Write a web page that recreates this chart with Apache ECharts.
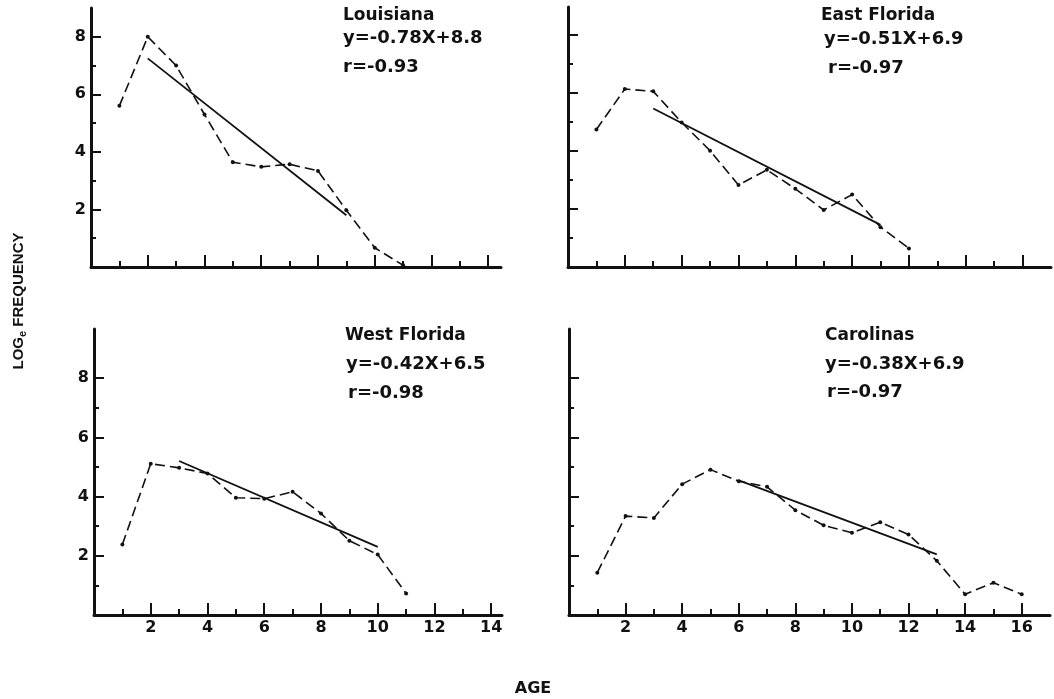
<!DOCTYPE html>
<html>
<head>
<meta charset="utf-8">
<script src="https://cdn.jsdelivr.net/npm/echarts@6/dist/echarts.min.js"></script>
<style>
  html, body { margin: 0; padding: 0; background: #fff; }
  #chart { width: 1054px; height: 699px; }
</style>
</head>
<body>
<div id="chart"></div>
<script>
// data (age vs log_e frequency)
var laAge = [1, 2, 3, 4, 5, 6, 7, 8, 9, 10, 11]
var laFreq = [5.6, 8.0, 7.0, 5.3, 3.64, 3.48, 3.57, 3.34, 1.97, 0.67, 0.06]
var laFit = [[2, 7.25], [9, 1.8]]

var efAge = [1, 2, 3, 4, 5, 6, 7, 8, 9, 10, 11, 12]
var efFreq = [4.73, 6.12, 6.04, 4.97, 4.0, 2.82, 3.34, 2.69, 1.96, 2.49, 1.37, 0.64]
var efFit = [[3, 5.45], [11, 1.45]]

var wfAge = [1, 2, 3, 4, 5, 6, 7, 8, 9, 10, 11]
var wfFreq = [2.38, 5.11, 4.97, 4.78, 3.96, 3.93, 4.16, 3.43, 2.51, 2.04, 0.73]
var wfFit = [[3, 5.2], [10, 2.3]]

var caAge = [1, 2, 3, 4, 5, 6, 7, 8, 9, 10, 11, 12, 13, 14, 15, 16]
var caFreq = [1.43, 3.34, 3.28, 4.42, 4.91, 4.52, 4.33, 3.54, 3.03, 2.78, 3.13, 2.72, 1.83, 0.70, 1.09, 0.70]
var caFit = [[6, 4.55], [13, 2.05]]

var yMajor = [2, 4, 6, 8]
var yMinor = [1, 3, 5, 7]
var xMajor14 = [2, 4, 6, 8, 10, 12, 14]
var xMinor14 = [1, 3, 5, 7, 9, 11, 13]
var xMajor16 = [2, 4, 6, 8, 10, 12, 14, 16]
var xMinor16 = [1, 3, 5, 7, 9, 11, 13, 15]

var panelNames = ["Louisiana", "East Florida", "West Florida", "Carolinas"]
var panelEq = ["y=-0.78X+8.8", "y=-0.51X+6.9", "y=-0.42X+6.5", "y=-0.38X+6.9"]
var panelR = ["r=-0.93", "r=-0.97", "r=-0.98", "r=-0.97"]

var chartDom = document.getElementById("chart")
var myChart = echarts.init(chartDom)

var FONT = "DejaVu Sans"
var INK = "#111"

var panels = [
    { grid: { left: 91, top: 8, width: 410, height: 259 }, xMax: 14.45, yMax: 9,
      xMaj: xMajor14, xMin: xMinor14, xLabels: false, yLabels: true,
      age: laAge, freq: laFreq, fit: laFit,
      text: [[343, 7], [343, 29], [343, 58]] },
    { grid: { left: 568, top: 7, width: 483, height: 260 }, xMax: 17, yMax: 8.94,
      xMaj: xMajor16, xMin: xMinor16, xLabels: false, yLabels: false,
      age: efAge, freq: efFreq, fit: efFit,
      text: [[821, 7], [824, 30], [828, 59]] },
    { grid: { left: 94, top: 329, width: 408, height: 286 }, xMax: 14.38, yMax: 9.66,
      xMaj: xMajor14, xMin: xMinor14, xLabels: true, yLabels: true,
      age: wfAge, freq: wfFreq, fit: wfFit,
      text: [[345, 327], [346, 355], [348, 384]] },
    { grid: { left: 569, top: 329, width: 481, height: 286 }, xMax: 17, yMax: 9.66,
      xMaj: xMajor16, xMin: xMinor16, xLabels: true, yLabels: false,
      age: caAge, freq: caFreq, fit: caFit,
      text: [[825, 327], [825, 355], [827, 383]] }
]

var grids = [], xAxes = [], yAxes = [], series = [], titles = []

panels.forEach(function (p, i) {
    grids.push(p.grid)
    // main x axis: line, even ticks, labels
    xAxes.push({
        type: "value", gridIndex: i, position: "bottom", min: 0, max: p.xMax,
        axisLine: { show: true, onZero: false, lineStyle: { color: INK, width: 3 } },
        axisTick: { show: true, inside: true, length: 12, customValues: p.xMaj, lineStyle: { color: INK, width: 2 } },
        axisLabel: { show: p.xLabels, customValues: p.xMaj, margin: 5, color: INK,
            fontFamily: FONT, fontWeight: "bold", fontSize: 16 },
        splitLine: { show: false }
    })
    // odd short ticks
    xAxes.push({
        type: "value", gridIndex: i, position: "bottom", min: 0, max: p.xMax,
        axisLine: { show: false },
        axisTick: { show: true, inside: true, length: 6, customValues: p.xMin, lineStyle: { color: INK, width: 2 } },
        axisLabel: { show: false },
        splitLine: { show: false }
    })
    yAxes.push({
        type: "value", gridIndex: i, position: "left", min: 0, max: p.yMax,
        axisLine: { show: true, onZero: false, lineStyle: { color: INK, width: 3 } },
        axisTick: { show: true, inside: true, length: 10, customValues: yMajor, lineStyle: { color: INK, width: 2 } },
        axisLabel: { show: p.yLabels, customValues: yMajor, margin: 5, color: INK,
            fontFamily: FONT, fontWeight: "bold", fontSize: 16 },
        splitLine: { show: false }
    })
    yAxes.push({
        type: "value", gridIndex: i, position: "left", min: 0, max: p.yMax,
        axisLine: { show: false },
        axisTick: { show: true, inside: true, length: 5, customValues: yMinor, lineStyle: { color: INK, width: 2 } },
        axisLabel: { show: false },
        splitLine: { show: false }
    })

    series.push({
        type: "line", xAxisIndex: 2 * i, yAxisIndex: 2 * i,
        data: p.age.map(function (a, k) { return [a, p.freq[k]] }),
        symbol: "circle", symbolSize: 4, showSymbol: true,
        itemStyle: { color: INK },
        lineStyle: { color: INK, width: 1.6, type: [10, 5] },
        silent: true, animation: false
    })
    series.push({
        type: "line", xAxisIndex: 2 * i, yAxisIndex: 2 * i,
        data: p.fit, symbol: "none",
        lineStyle: { color: INK, width: 1.8 },
        silent: true, animation: false
    })

    var lines = [panelNames[i], panelEq[i], panelR[i]]
    lines.forEach(function (t, k) {
        titles.push({
            text: t, left: p.text[k][0], top: p.text[k][1], padding: 0,
            textStyle: { fontFamily: FONT, fontWeight: "bold", fontSize: k === 0 ? 17 : 18, color: INK }
        })
    })
})

var option = {
    backgroundColor: "#fff",
    animation: false,
    title: titles,
    grid: grids,
    xAxis: xAxes,
    yAxis: yAxes,
    series: series,
    graphic: [
        {
            type: "text", x: 19, y: 301, rotation: Math.PI / 2,
            style: {
                text: "{a|LOG}{b|e}{a| FREQUENCY}",
                align: "center", verticalAlign: "middle",
                rich: {
                    a: { fontFamily: "Liberation Sans", fontWeight: "bold", fontSize: 15, fill: INK },
                    b: { fontFamily: "Liberation Sans", fontWeight: "bold", fontSize: 11, fill: INK, padding: [8, 0, 0, 0] }
                }
            }
        },
        {
            type: "text", x: 533, y: 689,
            style: {
                text: "AGE", align: "center", verticalAlign: "middle",
                fontFamily: FONT, fontWeight: "bold", fontSize: 16, fill: INK
            }
        }
    ]
}

option && myChart.setOption(option)
</script>
</body>
</html>
